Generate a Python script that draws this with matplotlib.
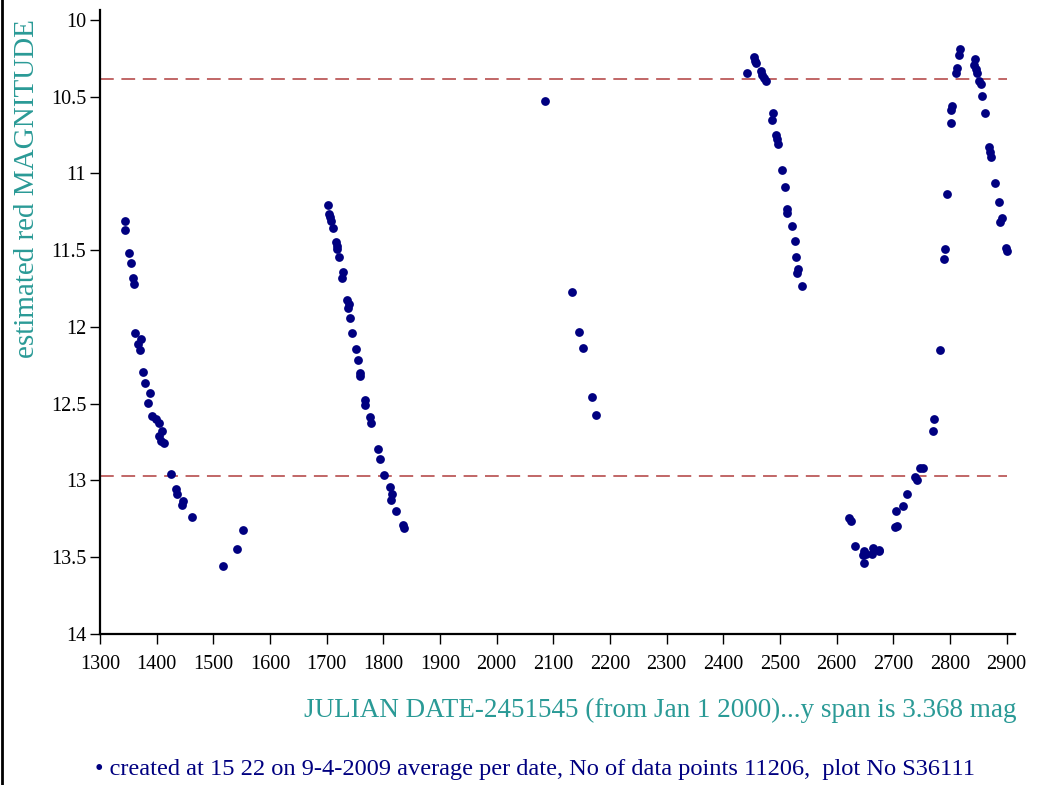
import matplotlib
matplotlib.use("Agg")
import matplotlib.pyplot as plt
from matplotlib.lines import Line2D

# ── Dados (médias por data) ──────────────────────────────────────────────────
jd = [
    # ciclo 1
    1344.9, 1344.9, 1351.9, 1355.4, 1357.6, 1359.9, 1362.4, 1366.9, 1370.4, 1372.1,
    1375.6, 1379.8, 1385.1, 1387.9, 1392.1, 1399.0, 1403.6, 1404.8, 1407.1, 1408.8,
    1413.0, 1425.8, 1434.5, 1436.2, 1444.5, 1446.2, 1461.9, 1516.6, 1541.6, 1552.8,
    # ciclo 2
    1703.0, 1704.7, 1705.8, 1707.5, 1710.5, 1716.9, 1718.0, 1718.7, 1722.2, 1729.2,
    1726.7, 1735.5, 1739.7, 1737.9, 1741.9, 1744.2, 1752.4, 1754.7, 1758.9, 1759.4,
    1768.1, 1768.1, 1776.3, 1778.1, 1790.3, 1794.3, 1801.3, 1811.8, 1815.3, 1813.5,
    1822.8, 1834.0, 1836.6,
    # ciclo 3
    2084.8, 2133.2, 2146.0, 2151.9, 2167.6, 2176.3,
    # ciclo 4
    2441.1, 2454.6, 2456.4, 2458.6, 2467.3, 2469.1, 2472.1, 2475.0, 2487.8, 2486.0,
    2493.6, 2494.8, 2496.5, 2503.5, 2509.3, 2511.7, 2513.4, 2522.2, 2526.2, 2529.1,
    2531.4, 2530.9, 2539.6,
    # ciclo 5
    2622.3, 2626.2, 2633.3, 2649.0, 2652.5, 2646.1, 2664.7, 2662.4, 2674.1, 2675.7,
    2647.9, 2703.1, 2707.3, 2704.4, 2716.6, 2724.8, 2739.3, 2742.8, 2746.8, 2752.7,
    2769.6, 2771.3, 2781.8, 2790.5, 2792.2, 2795.7, 2801.7, 2802.7, 2804.0, 2811.4,
    2812.1, 2816.6, 2817.9, 2842.9, 2844.1, 2846.4, 2848.2, 2850.6, 2855.8, 2856.9,
    2862.1, 2869.8, 2870.8, 2872.1, 2880.3, 2886.6, 2889.0, 2891.3, 2898.8, 2900.5,
]
mag = [
    11.31, 11.37, 11.517, 11.586, 11.684, 11.723, 12.038, 12.114, 12.151, 12.075,
    12.295, 12.364, 12.492, 12.43, 12.58, 12.601, 12.623, 12.707, 12.742, 12.677,
    12.759, 12.955, 13.053, 13.085, 13.157, 13.134, 13.238, 13.555, 13.447, 13.325,
    11.206, 11.265, 11.286, 11.308, 11.358, 11.445, 11.473, 11.495, 11.543, 11.641,
    11.684, 11.821, 11.847, 11.879, 11.941, 12.038, 12.145, 12.212, 12.299, 12.321,
    12.477, 12.51, 12.586, 12.623, 12.795, 12.86, 12.962, 13.042, 13.09, 13.125,
    13.201, 13.287, 13.31,
    10.528, 11.775, 12.032, 12.14, 12.456, 12.571,
    10.347, 10.243, 10.265, 10.282, 10.332, 10.359, 10.38, 10.396, 10.608, 10.652,
    10.75, 10.778, 10.808, 10.978, 11.091, 11.234, 11.256, 11.341, 11.441, 11.543,
    11.623, 11.647, 11.736,
    13.242, 13.264, 13.424, 13.46, 13.477, 13.488, 13.438, 13.477, 13.451, 13.46,
    13.538, 13.303, 13.299, 13.201, 13.168, 13.09, 12.977, 12.999, 12.919, 12.919,
    12.675, 12.601, 12.147, 11.556, 11.491, 11.136, 10.673, 10.587, 10.561, 10.347,
    10.315, 10.228, 10.189, 10.293, 10.256, 10.321, 10.344, 10.396, 10.417, 10.495,
    10.606, 10.826, 10.859, 10.891, 11.063, 11.184, 11.315, 11.289, 11.484, 11.506,
]

limites = [10.385, 12.973]          # linhas tracejadas
x_ticks = list(range(1300, 3000, 100))
y_ticks = [10, 10.5, 11, 11.5, 12, 12.5, 13, 13.5, 14]
y_labels = ["10", "10.5", "11", "11.5", "12", "12.5", "13", "13.5", "14"]

TEAL = "#2a9a96"
NAVY = "#000080"

plt.rcParams["font.family"] = ["Liberation Serif", "DejaVu Serif"]

fig = plt.figure(figsize=(10.43, 7.85), dpi=100)
ax = fig.add_axes([100 / 1043, 1 - 634 / 785, 915 / 1043, 624 / 785])

ax.scatter(jd, mag, s=40, color=NAVY, linewidths=0, zorder=3)
for y in limites:
    ax.hlines(y, 1300, 2900, colors="#a82828", linewidth=1.1,
              linestyles=(0, (9, 5)), alpha=0.9, zorder=2)

ax.set_xlim(1300, 2915)
ax.set_ylim(14, 9.935)
ax.set_xticks(x_ticks)
ax.set_yticks(y_ticks)
ax.set_yticklabels(y_labels)
ax.tick_params(axis="both", labelsize=14.5, direction="out", width=1, length=7)
ax.tick_params(axis="y", pad=3)
ax.tick_params(axis="x", pad=8)

for s in ["top", "right"]:
    ax.spines[s].set_visible(False)
for s in ["left", "bottom"]:
    ax.spines[s].set_linewidth(1.6)

ax.set_ylabel("estimated red MAGNITUDE", color=TEAL, fontsize=21)
ax.yaxis.set_label_coords(-60 / 915, 1 - (189 - 10) / 624)

fig.text(1016 / 1043, 1 - 710 / 785,
         "JULIAN DATE-2451545 (from Jan 1 2000)...y span is 3.368 mag",
         color=TEAL, fontsize=19.5, ha="right", va="center")
fig.text(95 / 1043, 1 - 770 / 785,
         "\u2022 created at 15 22 on 9-4-2009 average per date, No of data points 11206,  plot No S36111",
         color=NAVY, fontsize=17.6, ha="left", va="center")

# borda esquerda da imagem
fig.add_artist(Line2D([0.002, 0.002], [0, 1], color="black", linewidth=2))

fig.savefig("out.png", dpi=100)
